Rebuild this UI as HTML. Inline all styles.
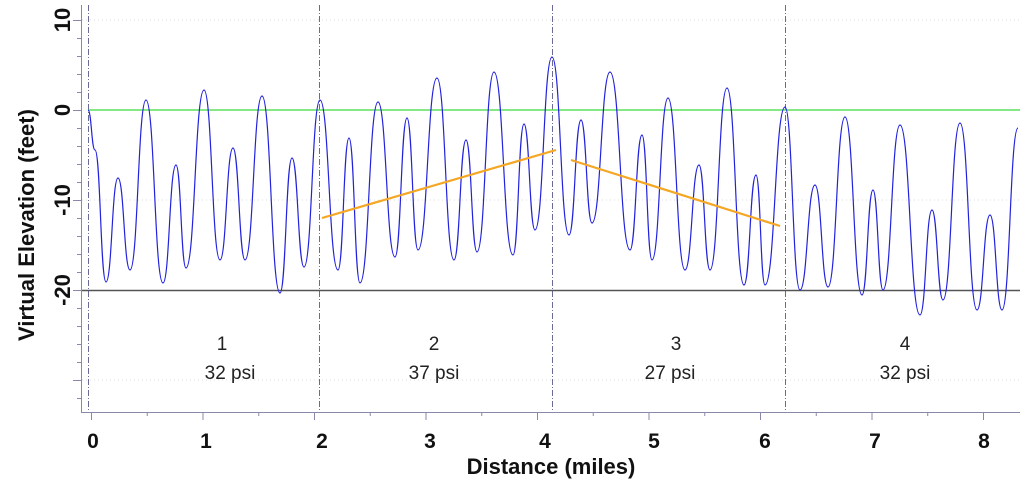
<!DOCTYPE html>
<html><head><meta charset="utf-8"><style>
html,body{margin:0;padding:0;background:#fff;}
svg{display:block;font-family:"Liberation Sans",sans-serif;}
</style></head><body>
<svg id="s" width="1024" height="494" viewBox="0 0 1024 494" xmlns="http://www.w3.org/2000/svg">
<g stroke="#ddd" stroke-dasharray="1,3" stroke-width="1">
<line x1="82" y1="20" x2="1020" y2="20"/><line x1="82" y1="200" x2="1020" y2="200"/><line x1="82" y1="380" x2="1020" y2="380"/>
</g>
<g stroke="#6a6a99" stroke-width="1" stroke-dasharray="6,2,1,2">
<line x1="88.5" y1="5" x2="88.5" y2="412"/><line x1="319.5" y1="5" x2="319.5" y2="412"/><line x1="552.5" y1="5" x2="552.5" y2="412"/><line x1="785.5" y1="5" x2="785.5" y2="412"/>
</g>
<line x1="88" y1="110" x2="1020" y2="110" stroke="#5be05b" stroke-width="1.5"/>
<line x1="82" y1="290.5" x2="1020" y2="290.5" stroke="#555" stroke-width="1.5"/>
<g stroke="#8888aa" stroke-width="1">
<line x1="81.5" y1="5" x2="81.5" y2="412"/><line x1="81" y1="412.5" x2="1020" y2="412.5"/>
</g>
<g id="ticks" stroke="#8888aa" stroke-width="1"></g>
<path id="curve" fill="none" stroke="#2222dd" stroke-width="1.2"/>
<g stroke="#f5a623" stroke-width="2.2">
<line x1="322" y1="218" x2="556" y2="150"/><line x1="571" y1="160" x2="780" y2="226"/>
</g>
<g font-weight="bold" font-size="21" text-anchor="middle" fill="#111">
<text x="93" y="448">0</text><text x="206" y="448">1</text><text x="322" y="448">2</text><text x="430" y="448">3</text><text x="545" y="448">4</text><text x="654" y="448">5</text><text x="765" y="448">6</text><text x="875" y="448">7</text><text x="984" y="448">8</text>
</g>
<g font-weight="bold" font-size="22" text-anchor="middle" fill="#111">
<text x="551" y="474">Distance (miles)</text>
<text transform="translate(34,225) rotate(-90)">Virtual Elevation (feet)</text>
<text transform="translate(70,20) rotate(-90)">10</text>
<text transform="translate(70,110) rotate(-90)">0</text>
<text transform="translate(70,200) rotate(-90)">-10</text>
<text transform="translate(70,290) rotate(-90)">-20</text>
</g>
<g font-size="19" text-anchor="middle" fill="#222">
<text x="222" y="350">1</text><text x="230" y="379">32 psi</text>
<text x="434" y="350">2</text><text x="434" y="379">37 psi</text>
<text x="676" y="350">3</text><text x="670" y="379">27 psi</text>
<text x="905" y="350">4</text><text x="905" y="379">32 psi</text>
</g>
</svg>
<script>
var p=[[88,110],[95,150],[106,282],[118,178],[130,270],[146,100],[163,283],[176,165],[186,268],[204,90],[220,260],[233,148],[245,260],[262,96],[280,293],[292,158],[304,267],[320,100],[338,270],[349,138],[360,283],[378,102],[395,257],[407,118],[418,250],[437,78],[454,260],[466,140],[477,252],[494,72],[513,255],[524,124],[535,230],[552,57],[569,235],[581,120],[592,223],[610,72],[630,250],[642,135],[652,260],[668,98],[685,270],[699,165],[710,270],[727,88],[744,285],[756,175],[765,285],[785,107],[800,290],[815,185],[828,287],[845,117],[862,295],[873,190],[883,290],[900,125],[920,315],[932,210],[943,300],[960,123],[977,310],[990,215],[1002,310],[1018,128]];
var d="M"+p[0][0]+","+p[0][1];
for(var i=0;i<p.length-1;i++){var a=p[i],b=p[i+1],dx=(b[0]-a[0])*0.5;
d+=" C"+(a[0]+dx)+","+a[1]+" "+(b[0]-dx)+","+b[1]+" "+b[0]+","+b[1];}
document.getElementById("curve").setAttribute("d",d);
var t="";
for(var v=10;v>=-32;v-=2){var y=110-v*9;if(y<5||y>412)continue;var L=(v%10==0)?8:4;t+='<line x1="'+(81-L)+'" y1="'+(y+.5)+'" x2="81" y2="'+(y+.5)+'"/>';}
for(var m=0;m<=8.3;m+=0.5){var x=91+m*111.5;var L=(m%1==0)?8:4;t+='<line x1="'+(x+.5)+'" y1="412" x2="'+(x+.5)+'" y2="'+(412+L)+'"/>';}
document.getElementById("ticks").innerHTML=t;
</script>
</body></html>
